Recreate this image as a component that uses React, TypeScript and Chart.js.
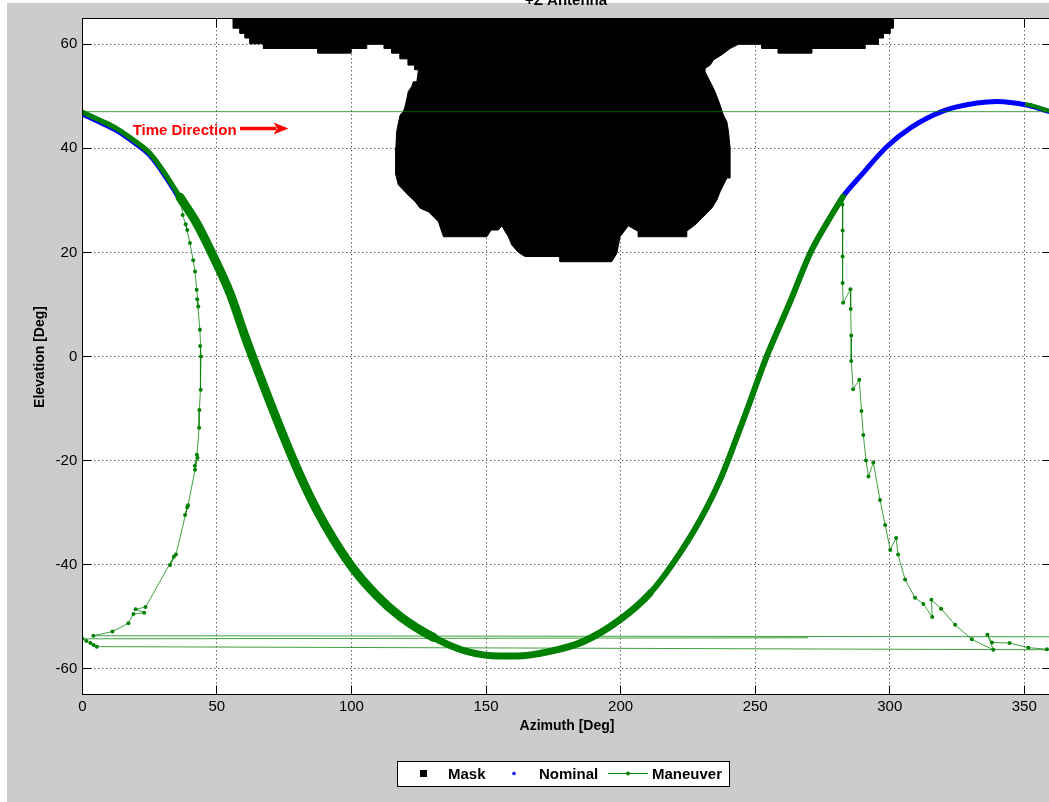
import React, { useEffect, useRef } from 'react';
import { Chart, registerables } from 'chart.js';

Chart.register(...registerables);

// ---------- axis ticks ----------
const xTicks = [0, 50, 100, 150, 200, 250, 300, 350];
const yTicks = [-60, -40, -20, 0, 20, 40, 60];

// ---------- Mask outline (azimuth, elevation) ----------
const maskAz = [56.1, 56.1, 58.6, 58.6, 60.5, 60.5, 62.3, 62.3, 67.3, 67.3, 87.5, 87.5, 99.9, 99.9, 105.7, 105.7, 112.2, 112.2, 115.0, 115.0, 118.1, 118.1, 121.1, 121.1, 123.6, 123.6, 124.9, 124.3, 123.0, 122.4, 121.1, 120.6, 119.9, 119.3, 118.1, 117.4, 116.8, 116.5, 116.5, 117.4, 119.3, 121.1, 123.6, 125.5, 128.6, 130.4, 132.3, 134.2, 150.3, 151.9, 154.6, 155.9, 157.1, 158.3, 159.6, 162.0, 164.5, 177.5, 177.5, 196.7, 198.6, 199.8, 201.7, 202.9, 206.6, 206.6, 224.6, 224.6, 227.7, 231.4, 233.9, 235.8, 237.0, 239.5, 240.7, 240.7, 240.1, 239.5, 238.2, 237.0, 235.1, 233.3, 231.4, 231.4, 233.3, 234.5, 237.6, 240.7, 243.8, 252.5, 252.5, 258.6, 258.6, 271.1, 271.1, 290.9, 290.9, 295.8, 295.8, 297.7, 297.7, 300.2, 300.2, 301.4, 301.4];
const maskEl = [66, 63.1, 63.1, 62.1, 62.1, 61.2, 61.2, 60.1, 60.1, 59.2, 59.2, 58.3, 58.3, 59.2, 59.2, 60.0, 60.0, 59.2, 59.2, 58.3, 58.3, 57.2, 57.2, 56.0, 56.0, 55.1, 55.1, 52.8, 52.8, 51.9, 50.9, 49.6, 48.0, 47.1, 46.4, 44.8, 43.2, 40.0, 34.9, 33.0, 32.0, 31.0, 29.8, 28.5, 27.8, 26.9, 25.9, 23.0, 23.0, 24.3, 24.3, 25.1, 24.0, 23.0, 21.4, 20.0, 19.2, 19.2, 18.2, 18.2, 19.8, 23.0, 24.3, 25.1, 24.0, 23.0, 23.0, 24.1, 25.3, 27.2, 28.5, 30.1, 31.7, 34.3, 34.3, 40.0, 43.2, 45.1, 46.4, 48.3, 50.9, 52.8, 54.7, 55.4, 56.0, 57.0, 58.0, 59.2, 60.0, 60.0, 59.2, 59.2, 58.3, 58.3, 59.2, 59.2, 60.0, 60.0, 61.2, 61.2, 62.1, 62.1, 63.1, 63.1, 66];

// ---------- Nominal track ----------
const nominalAz = [0, 6.6, 12.8, 19.0, 25.2, 31.4, 36.3, 42.5, 48.7, 54.9, 60.5, 63.2, 78.4, 87.1, 99.5, 109.4, 118.1, 130.4, 142.8, 155.2, 161.4, 173.8, 186.2, 199.8, 211.0, 219.6, 229.5, 237.0, 245.6, 254.3, 263.0, 270.4, 276.6, 282.6, 289.0, 298.9, 307.6, 320.0, 332.4, 339.8, 351.0, 358.4, 360];
const nominalEl = [46.6, 45.0, 43.4, 41.2, 38.6, 34.2, 30.2, 25.6, 19.2, 12.1, 3.8, 0, -19.9, -29.5, -40.0, -46.0, -50.0, -54.0, -56.7, -57.6, -57.6, -56.7, -54.8, -50.6, -45.5, -39.7, -31.5, -23.7, -12.2, 0, 10.5, 19.8, 25.6, 30.7, 34.6, 40.3, 43.9, 47.2, 48.7, 49.0, 48.3, 47.2, 47.0];

// ---------- Maneuver track (several pieces) ----------
const mainAz = [0, 6.6, 12.8, 19.0, 25.2, 31.4, 36.3, 42.5, 48.7, 54.9, 60.5, 63.2, 78.4, 87.1, 99.5, 109.4, 118.1, 130.4, 142.8, 155.2, 161.4, 173.8, 186.2, 199.8, 211.0, 219.6, 229.5, 237.0, 245.6, 254.3, 263.0, 270.4, 276.6, 282.6];
const mainEl = [47.0, 45.4, 43.8, 41.6, 39.0, 34.6, 30.6, 25.6, 19.2, 12.1, 3.8, 0, -19.9, -29.5, -40.0, -46.0, -50.0, -54.0, -56.7, -57.6, -57.6, -56.7, -54.8, -50.6, -45.5, -39.7, -31.5, -23.7, -12.2, 0, 10.5, 19.8, 25.6, 30.7];

const topAz = [350.3, 352.5, 355.0, 357.5, 360, 0];
const topEl = [48.5, 48.3, 47.9, 47.5, 47.05, 47.05];

const leftAz = [36.3, 37.3, 39.0, 38.4, 40.0, 41.2, 41.9, 42.5, 43.1, 42.7, 43.7, 44.1, 43.8, 44.0, 43.5, 43.4, 42.6, 41.8, 42.8, 41.9, 39.3, 38.2, 39.0, 34.8, 32.6, 34.0, 23.5, 19.8, 23.0, 19.0, 17.1, 11.2, 4.1, 360];
const leftEl = [30.6, 27.2, 24.3, 25.4, 21.8, 18.5, 16.3, 12.8, 9.6, 11.0, 5.1, 0, 2.0, -6.4, -10.3, -13.7, -18.9, -21.0, -19.5, -21.8, -28.6, -30.5, -29.0, -38.1, -40.1, -38.5, -48.2, -48.6, -49.3, -49.5, -51.3, -52.9, -53.7, -53.9];

const rightAz = [282.6, 282.4, 282.5, 282.5, 282.5, 282.7, 285.4, 285.5, 285.7, 285.7, 286.4, 288.7, 289.5, 290.2, 291.2, 292.1, 293.9, 296.4, 298.3, 300.2, 302.4, 303.1, 305.7, 309.4, 312.5, 315.8, 315.5, 319.1, 324.3, 330.5, 338.5, 336.3, 338.0, 344.5, 351.5, 358.4, 360];
const rightEl = [30.7, 29.2, 24.2, 19.2, 14.1, 10.3, 12.9, 9.1, 4.0, -0.9, -6.3, -4.5, -10.5, -15.1, -20.0, -23.1, -20.4, -27.6, -32.4, -37.2, -34.9, -38.1, -42.9, -46.4, -47.6, -50.1, -46.8, -48.5, -51.6, -54.4, -56.4, -53.5, -55.0, -55.1, -56.0, -56.3, -56.4];

const bottomAz = [360, 5.4, 4.2, 3.0, 1.5, 0, 269.7];
const bottomEl = [-56.4, -55.8, -55.5, -55.1, -54.7, -54.3, -54.1];

// ---------- annotation ----------
const timeTextAz = 18.7;
const timeTextEl = 42.6;
const timeArrowStartAz = 58.6;
const timeArrowEndAz = 76.6;
const timeArrowEl = 43.8;

const FONT = '"Liberation Sans", Arial, Helvetica, sans-serif';
const GREEN = '#008000';
const THIN_GREEN = 'rgba(0,128,0,0.75)';
const BLUE = '#0000ff';

const toPoints = (xs: number[], ys: number[]) => xs.map((x, i) => ({ x, y: ys[i] }));
const thickWidth = (az: number) => (az < 36 ? 5 : az < 125 ? 9 : az < 200 ? 7 : 6);

export default function App() {
  const ref = useRef<HTMLCanvasElement>(null);

  useEffect(() => {
    const canvas = ref.current;
    if (!canvas) return;
    Chart.defaults.font.family = FONT;

    const framePlugin = {
      id: 'matlabFrame',
      beforeDraw(chart: any) {
        const { ctx, chartArea: a, width, height } = chart;
        ctx.save();
        ctx.fillStyle = '#ffffff';
        ctx.fillRect(0, 0, width, height);
        ctx.fillStyle = '#cccccc';
        ctx.fillRect(7, 3, width - 7, height - 3);
        ctx.fillStyle = '#ffffff';
        ctx.fillRect(a.left, a.top, a.right - a.left, a.bottom - a.top);
        ctx.restore();
      },
      beforeDatasetsDraw(chart: any) {
        const { ctx, chartArea: a, scales } = chart;
        const xs = scales.x, ys = scales.y;
        ctx.save();
        ctx.strokeStyle = '#1a1a1a';
        ctx.lineWidth = 1;
        ctx.setLineDash([1, 3]);
        ctx.beginPath();
        for (const v of xTicks) {
          const px = Math.floor(xs.getPixelForValue(v)) + 0.5;
          ctx.moveTo(px, a.top);
          ctx.lineTo(px, a.bottom);
        }
        for (const v of yTicks) {
          const py = Math.floor(ys.getPixelForValue(v)) + 0.5;
          ctx.moveTo(a.left, py);
          ctx.lineTo(a.right, py);
        }
        ctx.stroke();
        ctx.restore();
      },
      afterDatasetsDraw(chart: any) {
        const { ctx, chartArea: a, scales } = chart;
        const xs = scales.x, ys = scales.y;
        const L = Math.floor(a.left) + 0.5, R = Math.floor(a.right) + 0.5;
        const T = Math.floor(a.top) + 0.5, B = Math.floor(a.bottom) + 0.5;
        ctx.save();
        ctx.setLineDash([]);
        ctx.strokeStyle = '#000';
        ctx.lineWidth = 1;
        ctx.strokeRect(L, T, R - L, B - T);
        ctx.beginPath();
        for (const v of xTicks) {
          const px = Math.floor(xs.getPixelForValue(v)) + 0.5;
          ctx.moveTo(px, B); ctx.lineTo(px, B - 9);
          ctx.moveTo(px, T); ctx.lineTo(px, T + 9);
        }
        for (const v of yTicks) {
          const py = Math.floor(ys.getPixelForValue(v)) + 0.5;
          ctx.moveTo(L, py); ctx.lineTo(L + 9, py);
          ctx.moveTo(R, py); ctx.lineTo(R - 9, py);
        }
        ctx.stroke();

        // Time Direction annotation
        ctx.fillStyle = '#ff0000';
        ctx.strokeStyle = '#ff0000';
        ctx.font = `bold 15px ${FONT}`;
        ctx.textAlign = 'left';
        ctx.textBaseline = 'alphabetic';
        ctx.fillText('Time Direction', xs.getPixelForValue(timeTextAz), ys.getPixelForValue(timeTextEl));
        const ax0 = xs.getPixelForValue(timeArrowStartAz);
        const ax1 = xs.getPixelForValue(timeArrowEndAz);
        const ay = ys.getPixelForValue(timeArrowEl);
        ctx.lineWidth = 3.5;
        ctx.beginPath();
        ctx.moveTo(ax0, ay);
        ctx.lineTo(ax1 - 12, ay);
        ctx.stroke();
        ctx.beginPath();
        ctx.moveTo(ax1, ay);
        ctx.lineTo(ax1 - 15, ay - 6);
        ctx.lineTo(ax1 - 11, ay);
        ctx.lineTo(ax1 - 15, ay + 6);
        ctx.closePath();
        ctx.fill();
        ctx.restore();
      },
      afterDraw(chart: any) {
        const { ctx } = chart;
        ctx.save();
        ctx.fillStyle = '#000';
        // title (cut at top edge)
        ctx.font = `bold 15px ${FONT}`;
        ctx.textAlign = 'center';
        ctx.textBaseline = 'alphabetic';
        ctx.fillText('+Z Antenna', 566, 5);
        // axis titles
        ctx.font = `bold 14px ${FONT}`;
        ctx.fillText('Azimuth [Deg]', 567, 730);
        ctx.save();
        ctx.translate(40, 357);
        ctx.rotate(-Math.PI / 2);
        ctx.textBaseline = 'middle';
        ctx.fillText('Elevation [Deg]', 0, 0);
        ctx.restore();

        // legend box
        ctx.fillStyle = '#ffffff';
        ctx.fillRect(397, 761, 333, 26);
        ctx.strokeStyle = '#000';
        ctx.lineWidth = 1;
        ctx.strokeRect(397.5, 761.5, 332, 25);
        ctx.fillStyle = '#000';
        ctx.fillRect(420, 770, 7, 7);
        ctx.font = `bold 15px ${FONT}`;
        ctx.textAlign = 'left';
        ctx.textBaseline = 'alphabetic';
        ctx.fillText('Mask', 448, 779);
        ctx.fillStyle = BLUE;
        ctx.beginPath();
        ctx.arc(514, 773.5, 1.8, 0, Math.PI * 2);
        ctx.fill();
        ctx.fillStyle = '#000';
        ctx.fillText('Nominal', 539, 779);
        ctx.strokeStyle = GREEN;
        ctx.beginPath();
        ctx.moveTo(608, 773.5);
        ctx.lineTo(648, 773.5);
        ctx.stroke();
        ctx.fillStyle = GREEN;
        ctx.beginPath();
        ctx.arc(628, 773.5, 2, 0, Math.PI * 2);
        ctx.fill();
        ctx.fillStyle = '#000';
        ctx.fillText('Maneuver', 652, 779);
        ctx.restore();
      },
    };

    const thinStyle = {
      showLine: true,
      borderColor: THIN_GREEN,
      borderWidth: 1,
      pointRadius: 2,
      pointBackgroundColor: GREEN,
      pointBorderWidth: 0,
      pointStyle: 'circle',
    };

    const chart = new Chart(canvas, {
      type: 'scatter',
      data: {
        datasets: [
          {
            label: 'Mask',
            data: toPoints(maskAz, maskEl),
            showLine: true,
            fill: 'shape',
            backgroundColor: '#000000',
            borderColor: '#000000',
            borderWidth: 1,
            pointRadius: 0,
            clip: 0,
            order: 10,
          },
          {
            label: 'Nominal',
            data: toPoints(nominalAz, nominalEl),
            showLine: true,
            borderColor: BLUE,
            borderWidth: 5,
            cubicInterpolationMode: 'monotone',
            borderCapStyle: 'round',
            borderJoinStyle: 'round',
            pointRadius: 0,
            clip: 0,
            order: 8,
          },
          {
            label: 'Maneuver',
            data: toPoints(mainAz, mainEl),
            showLine: true,
            borderColor: GREEN,
            borderWidth: 6,
            cubicInterpolationMode: 'monotone',
            borderCapStyle: 'round',
            borderJoinStyle: 'round',
            segment: { borderWidth: (c: any) => thickWidth(c.p0.parsed.x) },
            pointRadius: 0,
            clip: 0,
            order: 5,
          },
          {
            label: 'Maneuver',
            data: toPoints(topAz, topEl),
            showLine: true,
            borderColor: GREEN,
            borderWidth: 1,
            segment: {
              borderWidth: (c: any) => (c.p1.parsed.x < c.p0.parsed.x ? 1 : 4),
              borderColor: (c: any) => (c.p1.parsed.x < c.p0.parsed.x ? THIN_GREEN : GREEN),
            },
            pointRadius: 0,
            order: 4,
          },
          { label: 'Maneuver', data: toPoints(leftAz, leftEl), ...thinStyle, order: 3 },
          { label: 'Maneuver', data: toPoints(rightAz, rightEl), ...thinStyle, order: 3 },
          {
            label: 'Maneuver',
            data: toPoints(bottomAz, bottomEl),
            ...thinStyle,
            pointRadius: (c: any) => (c.dataIndex === bottomAz.length - 1 ? 0 : 2),
            order: 3,
          },
        ],
      } as any,
      options: {
        responsive: false,
        devicePixelRatio: 1,
        animation: false,
        events: [],
        layout: { padding: { left: 0, top: 18.3, right: 8.8, bottom: 77.5 } },
        plugins: {
          legend: { display: false },
          tooltip: { enabled: false },
          title: { display: false },
        },
        scales: {
          x: {
            type: 'linear',
            min: 0,
            max: 360,
            grid: { display: false, drawTicks: false },
            border: { display: false },
            afterBuildTicks: (s: any) => { s.ticks = xTicks.map((value) => ({ value })); },
            afterFit: (s: any) => { s.height = 30; },
            ticks: {
              autoSkip: false,
              maxRotation: 0,
              padding: 3,
              color: '#000',
              font: { family: FONT, size: 15 },
              callback: (v: any) => String(v),
            },
          },
          y: {
            type: 'linear',
            min: -65,
            max: 65,
            grid: { display: false, drawTicks: false },
            border: { display: false },
            afterBuildTicks: (s: any) => { s.ticks = yTicks.map((value) => ({ value })); },
            afterFit: (s: any) => { s.width = 82.3; },
            ticks: {
              padding: 5,
              color: '#000',
              font: { family: FONT, size: 15 },
              callback: (v: any) => String(v),
            },
          },
        },
      } as any,
      plugins: [framePlugin],
    });

    return () => chart.destroy();
  }, []);

  return (
    <div style={{ position: 'absolute', left: 0, top: 0, width: 1049, height: 802, overflow: 'hidden' }}>
      <canvas ref={ref} width={1060} height={802} style={{ display: 'block', width: 1060, height: 802 }} />
    </div>
  );
}
